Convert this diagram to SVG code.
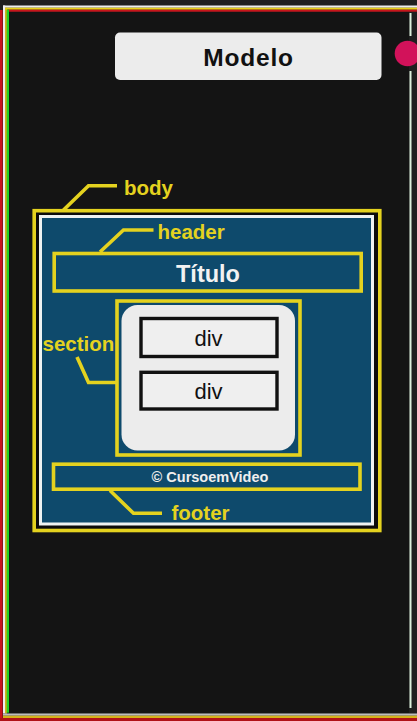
<svg xmlns="http://www.w3.org/2000/svg" width="417" height="721" viewBox="0 0 417 721">
<style>
.yb{fill:none;stroke:#e4d21f;stroke-width:3.6}
.lead{fill:none;stroke:#e4d21f;stroke-width:3.6;stroke-linejoin:miter}
.lbl{font-family:"Liberation Sans",Arial,sans-serif;font-weight:bold;font-size:20.5px;fill:#e4d21f}
.divb{fill:#efefef;stroke:#111;stroke-width:3.4}
.divt{font-family:"Liberation Sans",Arial,sans-serif;font-size:22px;fill:#111;text-anchor:middle}
</style>
<rect x="0" y="0" width="417" height="721" fill="#1f1f1f"/>
<rect x="8" y="12" width="401" height="701" fill="#141414"/>
<g id="frame">
<rect x="0" y="10" width="2.6" height="711" fill="#c8141c"/>
<rect x="3" y="5.5" width="414" height="2.2" fill="#eeeeee"/>
<rect x="3" y="5.5" width="2.2" height="708" fill="#eeeeee"/>
<rect x="5.2" y="7.7" width="411.8" height="2" fill="#e8d21a"/>
<rect x="5.2" y="7.7" width="1.6" height="706" fill="#e8d21a"/>
<rect x="8" y="9.7" width="409" height="2" fill="#c8141c"/>
<rect x="6.8" y="9.7" width="2.2" height="703" fill="#22d022"/>
<rect x="3" y="713.5" width="414" height="2.2" fill="#bdbdbd"/>
<rect x="3" y="715.7" width="414" height="2.3" fill="#d4b21a"/>
<rect x="0" y="718" width="417" height="3" fill="#b01218"/>
<rect x="409.5" y="13" width="2" height="23" fill="#dcefdc"/>
<rect x="409.5" y="71" width="2" height="637" fill="#dcefdc"/>
<circle cx="407.5" cy="53.5" r="12.8" fill="#d2125a"/>
</g>
<g id="modelo">
<rect x="115" y="32.5" width="266.5" height="47.5" rx="5" fill="#ececec"/>
<text x="248.5" y="66" font-family="Liberation Sans,Arial,sans-serif" font-weight="bold" font-size="24.5" letter-spacing="0.8" fill="#111" text-anchor="middle">Modelo</text>
</g>
<g id="body">
<rect x="34.2" y="210.7" width="345.6" height="319.8" fill="#0b0b0b" stroke="#e4d21f" stroke-width="3.6"/>
<rect x="40.5" y="216.5" width="332" height="307.5" fill="#0e4a6c" stroke="#eef2f2" stroke-width="3"/>
<text class="lbl" x="124" y="195">body</text>
</g>
<g id="header">
<rect class="yb" x="54.2" y="253.5" width="307" height="37.5"/>
<text x="208" y="282" font-family="Liberation Sans,Arial,sans-serif" font-weight="bold" font-size="23.5" fill="#f2f2f2" text-anchor="middle">Título</text>
<text class="lbl" x="157.5" y="238.5">header</text>
</g>
<g id="section">
<rect class="yb" x="117" y="301" width="183" height="154"/>
<rect x="121.5" y="305" width="173.5" height="145.5" rx="16" fill="#ececec"/>
<text class="lbl" x="42.5" y="351">section</text>
</g>
<g id="div1">
<rect class="divb" x="141" y="318.5" width="136" height="38"/>
<text class="divt" x="208.5" y="346">div</text>
</g>
<g id="div2">
<rect class="divb" x="141" y="372.3" width="136" height="36.7"/>
<text class="divt" x="208.5" y="398.5">div</text>
</g>
<g id="footer">
<rect class="yb" x="53.5" y="464.2" width="306.5" height="25"/>
<text x="210" y="481.7" font-family="Liberation Sans,Arial,sans-serif" font-weight="bold" font-size="14.5" fill="#eeeeee" text-anchor="middle">© CursoemVideo</text>
<text class="lbl" x="171.5" y="519.5">footer</text>
</g>
<g id="connectors">
<polyline class="lead" points="63.5,210 88.5,185.7 117,185.7"/>
<polyline class="lead" points="100,252 123.5,230 153.5,230"/>
<polyline class="lead" points="77,357 88.5,382.5 117,382.5"/>
<polyline class="lead" points="110,490.5 133.5,513.3 162,513.3"/>
</g>
</svg>
